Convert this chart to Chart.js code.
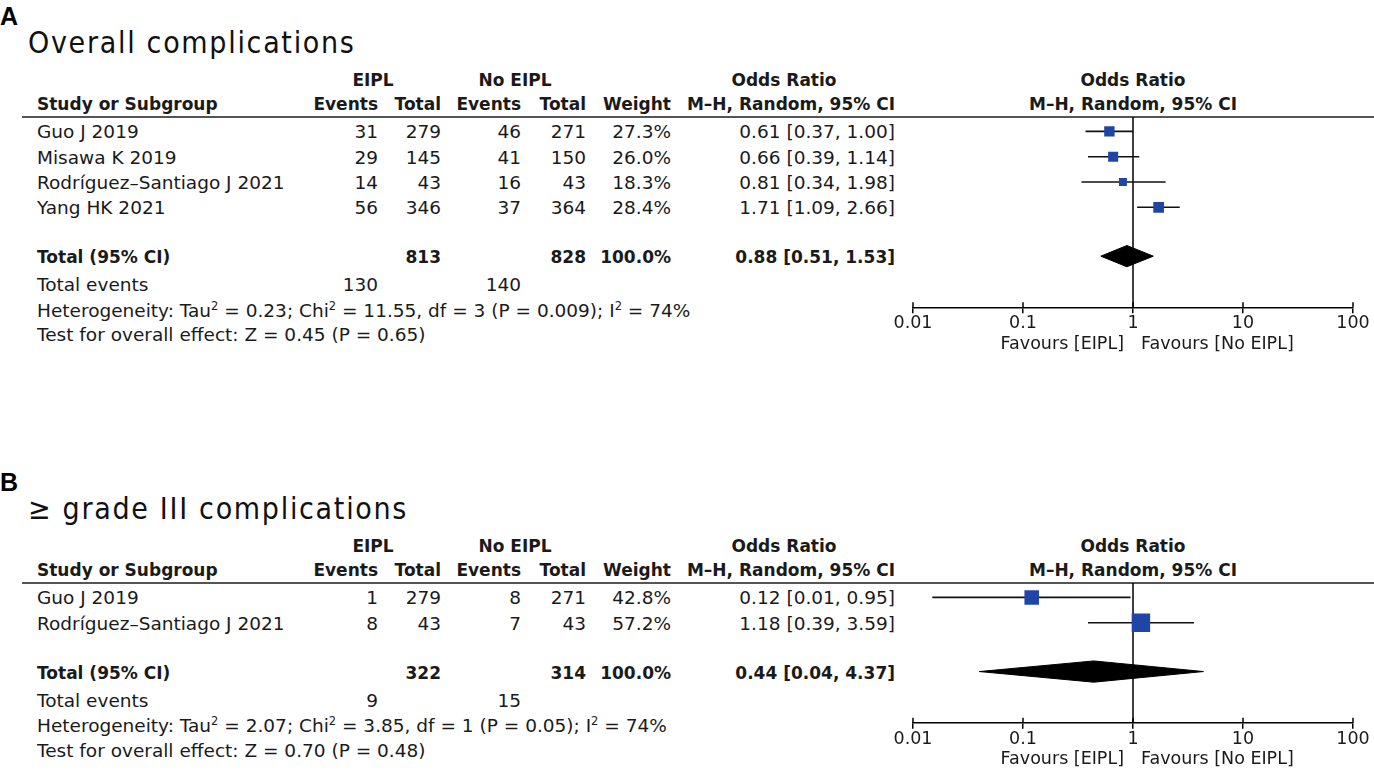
<!DOCTYPE html>
<html>
<head>
<meta charset="utf-8">
<script src="https://cdn.jsdelivr.net/npm/chart.js@4.4.0/dist/chart.umd.min.js"></script>
<style>
  body { margin: 0; background: #fff; width: 1374px; height: 772px; overflow: hidden; position: relative;
         font-family: "DejaVu Sans", sans-serif; color: #1a1a1a; }
  .t { position: absolute; white-space: nowrap; line-height: 20px; height: 20px; font-size: 18.5px; }
  .b { font-weight: bold; font-size: 17px; }
  .r { transform: translateX(-100%); }
  .c { transform: translateX(-50%); }
  .letter { position: absolute; left: 0; font: bold 25px "Liberation Sans", Arial, sans-serif; line-height: 28px; color: #000; }
  .title { position: absolute; left: 28px; font-family: "DejaVu Sans Condensed", "DejaVu Sans", sans-serif;
           font-size: 30px; line-height: 36px; letter-spacing: 1.7px; color: #111; white-space: nowrap; }
  .rule { position: absolute; left: 22px; right: 0; height: 2px; background: #555; }
  sup { font-size: 11.5px; line-height: 0; vertical-align: 7px; }
  canvas { position: absolute; }
</style>
</head>
<body>
<script>
// axis
const orTicks = [0.01, 0.1, 1, 10, 100];
const orTickLabels = ['0.01', '0.1', '1', '10', '100'];

// panel A - overall complications
const studiesA = ['Guo J 2019', 'Misawa K 2019', 'Rodríguez–Santiago J 2021', 'Yang HK 2021'];
const eventsEiplA = [31, 29, 14, 56];
const totalEiplA = [279, 145, 43, 346];
const eventsNoA = [46, 41, 16, 37];
const totalNoA = [271, 150, 43, 364];
const weightA = [27.3, 26.0, 18.3, 28.4];
const orA = [0.61, 0.66, 0.81, 1.71];
const loA = [0.37, 0.39, 0.34, 1.09];
const hiA = [1.00, 1.14, 1.98, 2.66];
const pooledA = [0.88, 0.51, 1.53];      // estimate, lower, upper
const totalsA = [813, 828];
const totalEventsA = [130, 140];
const hetA = ['0.23', '11.55', '3', '0.009', '74'];   // tau2, chi2, df, p, I2
const effectA = ['0.45', '0.65'];                    // Z, p

// panel B - grade III or more
const studiesB = ['Guo J 2019', 'Rodríguez–Santiago J 2021'];
const eventsEiplB = [1, 8];
const totalEiplB = [279, 43];
const eventsNoB = [8, 7];
const totalNoB = [271, 43];
const weightB = [42.8, 57.2];
const orB = [0.12, 1.18];
const loB = [0.015, 0.39];
const hiB = [0.95, 3.59];
const pooledB = [0.44, 0.04, 4.37];
const totalsB = [322, 314];
const totalEventsB = [9, 15];
const hetB = ['2.07', '3.85', '1', '0.05', '74'];
const effectB = ['0.70', '0.48'];

const STEP = 25.3;
const Y_MIN = -0.57;
const AXIS_H = 6 + 17.5 * 1.2;
const sq = '#1f46a6';

function txt(x, y, html, cls) {
  const d = document.createElement('div');
  d.className = 't ' + (cls || '');
  d.style.left = x + 'px';
  d.style.top = (y - 10) + 'px';
  d.innerHTML = html;
  document.body.appendChild(d);
}

function drawPanel(o, letter, title, studies, ev1, n1, ev2, n2, w, or, lo, hi, pooled, totals, totEv, het, eff) {
  const n = studies.length;
  const ruleY = o + 117;
  const yMax = n + 2.95;
  const totalIdx = n + 0.93;
  const rowPx = i => ruleY + (i - Y_MIN) * STEP;

  let el = document.createElement('div');
  el.className = 'letter'; el.style.top = (o + 2) + 'px'; el.textContent = letter;
  document.body.appendChild(el);
  el = document.createElement('div');
  el.className = 'title'; el.style.top = (o + 25) + 'px'; el.textContent = title;
  document.body.appendChild(el);

  // headers
  txt(373, o + 80, 'EIPL', 'b c');
  txt(515, o + 80, 'No EIPL', 'b c');
  txt(784, o + 80, 'Odds Ratio', 'b c');
  txt(1133, o + 80, 'Odds Ratio', 'b c');
  txt(37, o + 104, 'Study or Subgroup', 'b');
  txt(378, o + 104, 'Events', 'b r');
  txt(441, o + 104, 'Total', 'b r');
  txt(521, o + 104, 'Events', 'b r');
  txt(586, o + 104, 'Total', 'b r');
  txt(671, o + 104, 'Weight', 'b r');
  txt(895, o + 104, 'M–H, Random, 95% CI', 'b r');
  txt(1133, o + 104, 'M–H, Random, 95% CI', 'b c');
  el = document.createElement('div');
  el.className = 'rule'; el.style.top = (ruleY - 1) + 'px';
  document.body.appendChild(el);

  studies.forEach((s, i) => {
    const y = rowPx(i) + 1;
    txt(37, y, s);
    txt(378, y, ev1[i], 'r');
    txt(441, y, n1[i], 'r');
    txt(521, y, ev2[i], 'r');
    txt(586, y, n2[i], 'r');
    txt(671, y, w[i].toFixed(1) + '%', 'r');
    txt(895, y, `${or[i].toFixed(2)} [${lo[i].toFixed(2)}, ${hi[i].toFixed(2)}]`, 'r');
  });
  const ty = rowPx(totalIdx) + 1;
  txt(37, ty, 'Total (95% CI)', 'b');
  txt(441, ty, totals[0], 'b r');
  txt(586, ty, totals[1], 'b r');
  txt(671, ty, '100.0%', 'b r');
  txt(895, ty, `${pooled[0].toFixed(2)} [${pooled[1].toFixed(2)}, ${pooled[2].toFixed(2)}]`, 'b r');
  txt(37, ty + 28, 'Total events');
  txt(378, ty + 28, totEv[0], 'r');
  txt(521, ty + 28, totEv[1], 'r');
  txt(37, ty + 53.5, `Heterogeneity: Tau<sup>2</sup> = ${het[0]}; Chi<sup>2</sup> = ${het[1]}, df = ${het[2]} (P = ${het[3]}); I<sup>2</sup> = ${het[4]}%`);
  txt(37, ty + 78, `Test for overall effect: Z = ${eff[0]} (P = ${eff[1]})`);

  // forest plot
  const areaH = (yMax - Y_MIN) * STEP;
  const padTop = 20;
  const H = Math.ceil(padTop + areaH + AXIS_H + 26);
  const cv = document.createElement('canvas');
  cv.width = 494; cv.height = H;
  cv.style.left = '880px'; cv.style.top = (ruleY - padTop) + 'px';
  cv.style.width = '494px'; cv.style.height = H + 'px';
  document.body.appendChild(cv);

  const datasets = [];
  datasets.push({
    data: or.map((v, i) => ({ x: v, y: i })),
    pointStyle: 'rect',
    pointRadius: w.map(v => (3 + 0.27 * v) / Math.SQRT2),
    backgroundColor: sq, borderColor: sq, borderWidth: 0, order: 0
  });
  datasets.push({
    data: [
      { x: pooled[1], y: totalIdx }, { x: pooled[0], y: totalIdx - 0.42 },
      { x: pooled[2], y: totalIdx }, { x: pooled[0], y: totalIdx + 0.42 },
      { x: pooled[1], y: totalIdx }
    ],
    showLine: true, fill: 'shape', backgroundColor: '#000', borderColor: '#000',
    borderWidth: 1, pointRadius: 0, tension: 0, order: 1
  });
  studies.forEach((s, i) => {
    datasets.push({
      data: [{ x: lo[i], y: i }, { x: hi[i], y: i }],
      showLine: true, borderColor: '#111', borderWidth: 1.6, pointRadius: 0, order: 2
    });
  });
  datasets.push({
    data: [{ x: 1, y: Y_MIN }, { x: 1, y: yMax }],
    showLine: true, borderColor: '#000', borderWidth: 1.5, pointRadius: 0, order: 3
  });

  const favours = {
    id: 'favours',
    afterDraw(chart) {
      const ctx = chart.ctx;
      const xs = chart.scales.x;
      const axisY = xs.top;
      ctx.save();
      ctx.strokeStyle = '#000';
      ctx.lineWidth = 1.5;
      orTicks.forEach(v => {
        const x = xs.getPixelForValue(v);
        ctx.beginPath(); ctx.moveTo(x, axisY - 5); ctx.lineTo(x, axisY); ctx.stroke();
      });
      const x1 = xs.getPixelForValue(1);
      ctx.fillStyle = '#1a1a1a';
      ctx.font = '17.5px "DejaVu Sans"';
      ctx.textBaseline = 'middle';
      ctx.textAlign = 'right';
      ctx.fillText('Favours [EIPL]', x1 - 9, axisY + 37);
      ctx.textAlign = 'left';
      ctx.fillText('Favours [No EIPL]', x1 + 8, axisY + 37);
      ctx.restore();
    }
  };

  new Chart(cv, {
    type: 'scatter',
    data: { datasets },
    options: {
      responsive: false,
      animation: false,
      layout: { padding: { left: 33, right: 21, top: padTop, bottom: H - padTop - areaH - AXIS_H } },
      plugins: { legend: { display: false }, tooltip: { enabled: false } },
      scales: {
        x: {
          type: 'logarithmic', min: 0.01, max: 100, position: 'bottom',
          afterBuildTicks: ax => { ax.ticks = orTicks.map(v => ({ value: v })); },
          ticks: {
            callback: (v, i) => orTickLabels[i],
            color: '#1a1a1a', font: { family: 'DejaVu Sans', size: 17.5 },
            padding: 0, maxRotation: 0, autoSkip: false
          },
          grid: { drawOnChartArea: false, drawTicks: true, tickLength: 6, color: '#000', lineWidth: 1.5 },
          border: { display: true, color: '#000', width: 1.5 }
        },
        y: { type: 'linear', reverse: true, min: Y_MIN, max: yMax, display: false }
      }
    },
    plugins: [favours]
  });
}

drawPanel(0, 'A', 'Overall complications', studiesA, eventsEiplA, totalEiplA, eventsNoA, totalNoA,
  weightA, orA, loA, hiA, pooledA, totalsA, totalEventsA, hetA, effectA);
drawPanel(466, 'B', '≥ grade III complications', studiesB, eventsEiplB, totalEiplB, eventsNoB, totalNoB,
  weightB, orB, loB, hiB, pooledB, totalsB, totalEventsB, hetB, effectB);
</script>
</body>
</html>
